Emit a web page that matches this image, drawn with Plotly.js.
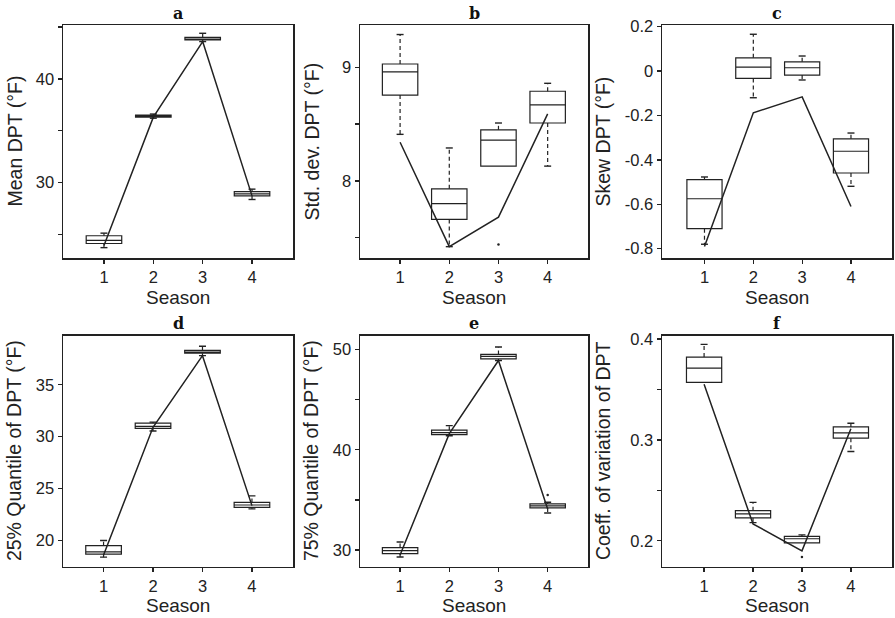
<!DOCTYPE html>
<html>
<head>
<meta charset="utf-8">
<script src="https://cdn.plot.ly/plotly-3.0.1.min.js"></script>
<style>
  html, body { margin: 0; padding: 0; background: #ffffff; }
  #chart { width: 895px; height: 618px; }
</style>
</head>
<body>
<div id="chart"></div>
<script>
// ---------------- DATA ----------------
const seasons = [1, 2, 3, 4];

// a: Mean DPT (°F)
const aLower    = [23.7, 36.2, 43.6, 28.35];
const aQ1       = [24.1, 36.3, 43.75, 28.7];
const aMedian   = [24.4, 36.4, 43.85, 28.9];
const aQ3       = [24.85, 36.5, 44.0, 29.1];
const aUpper    = [25.1, 36.6, 44.4, 29.35];
const aObserved = [23.9, 36.3, 43.6, 28.7];

// b: Std. dev. DPT (°F)
const bLower    = [8.41, 7.42, 8.13, 8.13];
const bQ1       = [8.756, 7.66, 8.13, 8.51];
const bMedian   = [8.96, 7.80, 8.36, 8.67];
const bQ3       = [9.03, 7.93, 8.45, 8.79];
const bUpper    = [9.29, 8.29, 8.51, 8.86];
const bObserved = [8.34, 7.42, 7.68, 8.59];
const bOutlierX = [3];
const bOutlierY = [7.44];

// c: Skew DPT (°F)
const cLower    = [-0.78, -0.12, -0.04, -0.519];
const cQ1       = [-0.71, -0.033, -0.018, -0.459];
const cMedian   = [-0.575, 0.018, 0.015, -0.361];
const cQ3       = [-0.489, 0.06, 0.042, -0.305];
const cUpper    = [-0.477, 0.166, 0.068, -0.279];
const cObserved = [-0.79, -0.188, -0.116, -0.61];

// d: 25% Quantile of DPT (°F)
const dLower    = [18.4, 30.55, 37.8, 23.05];
const dQ1       = [18.7, 30.8, 38.04, 23.2];
const dMedian   = [18.9, 31.0, 38.15, 23.42];
const dQ3       = [19.5, 31.3, 38.3, 23.67];
const dUpper    = [20.0, 31.4, 38.7, 24.3];
const dObserved = [18.6, 30.9, 37.8, 23.36];

// e: 75% Quantile of DPT (°F)
const eLower    = [29.3, 41.4, 48.9, 33.7];
const eQ1       = [29.65, 41.5, 49.05, 34.2];
const eMedian   = [29.95, 41.7, 49.3, 34.4];
const eQ3       = [30.25, 41.95, 49.5, 34.6];
const eUpper    = [30.8, 42.4, 50.25, 34.76];
const eObserved = [29.5, 41.6, 48.9, 34.1];
const eOutlierX = [4];
const eOutlierY = [35.5];

// f: Coeff. of variation of DPT
const fLower    = [0.357, 0.218, 0.198, 0.2885];
const fQ1       = [0.357, 0.2226, 0.198, 0.3017];
const fMedian   = [0.371, 0.2266, 0.202, 0.307];
const fQ3       = [0.382, 0.2298, 0.2044, 0.3128];
const fUpper    = [0.3946, 0.238, 0.2058, 0.3165];
const fObserved = [0.355, 0.2167, 0.190, 0.311];
const fOutlierX = [3];
const fOutlierY = [0.184];

// tick labels
const xTickLabels = ['1', '2', '3', '4'];
const aTickVals = [25, 30, 35, 40, 45];        const aTickText = ['', '30', '', '40', ''];
const bTickVals = [7.5, 8, 8.5, 9];            const bTickText = ['', '8', '', '9'];
const cTickVals = [-0.8, -0.6, -0.4, -0.2, 0, 0.2]; const cTickText = ['-0.8', '-0.6', '-0.4', '-0.2', '0', '0.2'];
const dTickVals = [20, 25, 30, 35];            const dTickText = ['20', '25', '30', '35'];
const eTickVals = [30, 35, 40, 45, 50];        const eTickText = ['30', '', '40', '', '50'];
const fTickVals = [0.2, 0.25, 0.3, 0.35, 0.4]; const fTickText = ['0.2', '', '0.3', '', '0.4'];

const panelLetters = ['a', 'b', 'c', 'd', 'e', 'f'];
const yTitles = ['Mean DPT (°F)', 'Std. dev. DPT (°F)', 'Skew DPT (°F)',
                 '25% Quantile of DPT (°F)', '75% Quantile of DPT (°F)', 'Coeff. of variation of DPT'];
const xTitle = 'Season';

// ---------------- LAYOUT GEOMETRY ----------------
const W = 895, H = 618;
const colPx = [[63, 293], [360, 588], [662, 892]];
const rowPx = [[25, 258], [335.5, 566.7]];
const xRanges = [[0.17, 4.83], [0.185, 4.82], [0.13, 4.84], [0.18, 4.83], [0.185, 4.82], [0.14, 4.84]];
const yRanges = [[22.7, 45.2], [7.32, 9.374], [-0.842, 0.2077], [17.48, 39.74], [28.34, 51.39], [0.1743, 0.4034]];
const yTitleX = [15, 312, 603, 14, 311, 603];
const titleY = [14, 323.5];
const seasonY = [298, 605.5];

const panels = [
  {lo: aLower, q1: aQ1, med: aMedian, q3: aQ3, hi: aUpper, obs: aObserved, ox: [], oy: [], tv: aTickVals, tt: aTickText},
  {lo: bLower, q1: bQ1, med: bMedian, q3: bQ3, hi: bUpper, obs: bObserved, ox: bOutlierX, oy: bOutlierY, tv: bTickVals, tt: bTickText},
  {lo: cLower, q1: cQ1, med: cMedian, q3: cQ3, hi: cUpper, obs: cObserved, ox: [], oy: [], tv: cTickVals, tt: cTickText},
  {lo: dLower, q1: dQ1, med: dMedian, q3: dQ3, hi: dUpper, obs: dObserved, ox: [], oy: [], tv: dTickVals, tt: dTickText},
  {lo: eLower, q1: eQ1, med: eMedian, q3: eQ3, hi: eUpper, obs: eObserved, ox: eOutlierX, oy: eOutlierY, tv: eTickVals, tt: eTickText},
  {lo: fLower, q1: fQ1, med: fMedian, q3: fQ3, hi: fUpper, obs: fObserved, ox: fOutlierX, oy: fOutlierY, tv: fTickVals, tt: fTickText}
];

const ink = '#222222';
const sans = 'Liberation Sans, Arial, Helvetica, sans-serif';
const serif = 'DejaVu Serif, Liberation Serif, serif';

const traces = [];
const layout = {
  width: W, height: H,
  margin: {l: 0, r: 0, t: 0, b: 0},
  paper_bgcolor: '#ffffff', plot_bgcolor: '#ffffff',
  showlegend: false,
  annotations: []
};

panels.forEach((p, k) => {
  const n = k + 1;
  const xa = n === 1 ? 'x' : 'x' + n;
  const ya = n === 1 ? 'y' : 'y' + n;
  const row = Math.floor(k / 3), col = k % 3;
  const xd = [colPx[col][0] / W, colPx[col][1] / W];
  const yd = [1 - rowPx[row][1] / H, 1 - rowPx[row][0] / H];

  // boxes (quartiles + median), whiskers drawn separately as dashed lines
  traces.push({
    type: 'box', xaxis: xa, yaxis: ya,
    x: seasons, q1: p.q1, median: p.med, q3: p.q3,
    lowerfence: p.q1, upperfence: p.q3,
    width: 0.72, whiskerwidth: 0, boxpoints: false,
    fillcolor: 'rgba(255,255,255,0)',
    line: {color: ink, width: 1.2},
    hoverinfo: 'skip'
  });

  // dashed whiskers
  const wx = [], wy = [], cx = [], cy = [];
  seasons.forEach((s, i) => {
    if (p.hi[i] > p.q3[i]) { wx.push(s, s, null); wy.push(p.q3[i], p.hi[i], null); cx.push(s); cy.push(p.hi[i]); }
    if (p.lo[i] < p.q1[i]) { wx.push(s, s, null); wy.push(p.q1[i], p.lo[i], null); cx.push(s); cy.push(p.lo[i]); }
  });
  traces.push({
    type: 'scatter', mode: 'lines', xaxis: xa, yaxis: ya,
    x: wx, y: wy, line: {color: ink, width: 1.2, dash: '4px,3px'},
    hoverinfo: 'skip', connectgaps: false
  });
  traces.push({
    type: 'scatter', mode: 'markers', xaxis: xa, yaxis: ya,
    x: cx, y: cy, marker: {symbol: 'line-ew', size: 5, line: {color: ink, width: 1.4}},
    hoverinfo: 'skip'
  });

  // observed line
  traces.push({
    type: 'scatter', mode: 'lines', xaxis: xa, yaxis: ya,
    x: seasons, y: p.obs, line: {color: ink, width: 1.5}, hoverinfo: 'skip'
  });

  // outliers
  if (p.ox.length) {
    traces.push({
      type: 'scatter', mode: 'markers', xaxis: xa, yaxis: ya,
      x: p.ox, y: p.oy, marker: {color: ink, size: 2.5}, hoverinfo: 'skip'
    });
  }

  const axCommon = {
    showgrid: false, zeroline: false, showline: true, mirror: true,
    linecolor: ink, linewidth: 1.5,
    ticks: 'outside', ticklen: 4, tickwidth: 1.3, tickcolor: ink,
    tickfont: {family: sans, size: 16.5, color: ink},
    fixedrange: true
  };
  layout['xaxis' + (n === 1 ? '' : n)] = Object.assign({}, axCommon, {
    domain: xd, anchor: ya, range: xRanges[k],
    tickmode: 'array', tickvals: seasons, ticktext: xTickLabels
  });
  layout['yaxis' + (n === 1 ? '' : n)] = Object.assign({}, axCommon, {
    domain: yd, anchor: xa, range: yRanges[k],
    tickmode: 'array', tickvals: p.tv, ticktext: p.tt
  });

  const cxPx = (colPx[col][0] + colPx[col][1]) / 2;
  const cyPx = (rowPx[row][0] + rowPx[row][1]) / 2;
  // panel letter
  layout.annotations.push({
    text: panelLetters[k], xref: 'paper', yref: 'paper',
    x: cxPx / W, y: 1 - titleY[row] / H, xanchor: 'center', yanchor: 'middle',
    showarrow: false, font: {family: serif, size: 16, color: '#111', weight: 'bold'}
  });
  // x title
  layout.annotations.push({
    text: xTitle, xref: 'paper', yref: 'paper',
    x: cxPx / W, y: 1 - seasonY[row] / H, xanchor: 'center', yanchor: 'middle',
    showarrow: false, font: {family: sans, size: 19, color: ink}
  });
  // y title
  layout.annotations.push({
    text: yTitles[k], xref: 'paper', yref: 'paper', textangle: -90,
    x: yTitleX[k] / W, y: 1 - cyPx / H, xanchor: 'center', yanchor: 'middle',
    showarrow: false, font: {family: sans, size: 19.5, color: ink}
  });
});

Plotly.newPlot('chart', traces, layout, {staticPlot: true, displayModeBar: false});
</script>
</body>
</html>
